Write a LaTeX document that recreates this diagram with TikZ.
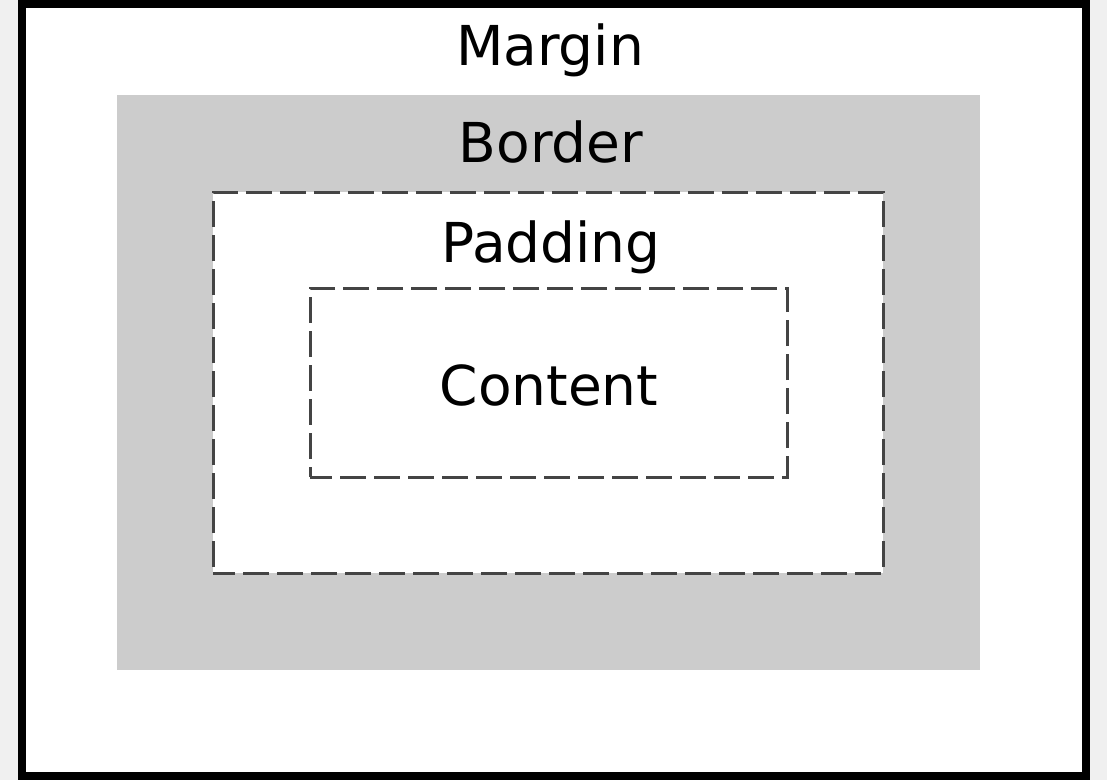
\documentclass[tikz,border=0pt]{standalone}
\usepackage{fontspec}
\setmainfont{DejaVu Sans}
\usepackage{tikz}
\usetikzlibrary{positioning}
\definecolor{pagebg}{HTML}{F0F0F0}
\definecolor{bordergray}{HTML}{CCCCCC}
\definecolor{dashgray}{HTML}{444444}

\begin{document}
\begin{tikzpicture}[
    x=1pt,y=-1pt,
    every node/.style={font=\fontsize{55}{60}\selectfont,text=black,inner sep=0pt},
    marginbox/.style={draw=black,line width=8pt,fill=white,minimum width=1064pt,minimum height=772pt},
    borderbox/.style={fill=bordergray,minimum width=863pt,minimum height=575pt},
    dashbox/.style={draw=dashgray,fill=white,line width=3pt,dash pattern=on 26pt off 8pt,dash phase=4pt},
    lbl/.style={anchor=base}
]
\fill[pagebg] (0,0) rectangle (1107,780);
\useasboundingbox (0,0) rectangle (1107,780);

\node[marginbox] (margin) at (554,390) {};
\node[borderbox] (border) at (548.5,382.5) {};
\node[dashbox,minimum width=670pt,minimum height=381pt] (padding) at (548,382.5) {};
\node[dashbox,minimum width=477pt,minimum height=189pt] (content) at (548.5,382.5) {};

\node[lbl] (marginlbl) at (550,65) {Margin};
\node[lbl] (borderlbl) at (551,162) {Border};
\node[lbl] (paddinglbl) at (551,262) {Padding};
\node[lbl] (contentlbl) at (549,405) {Content};
\end{tikzpicture}
\end{document}
